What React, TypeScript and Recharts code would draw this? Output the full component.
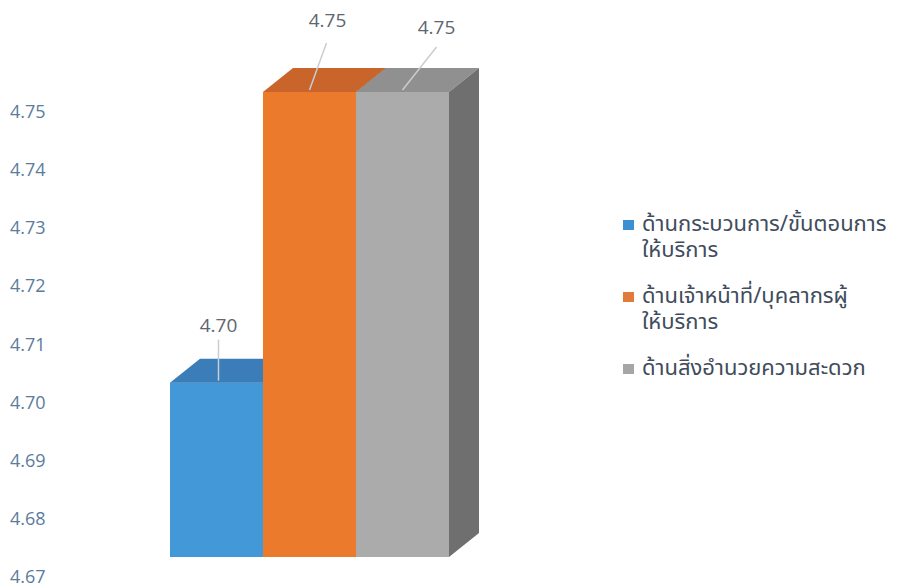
import React from 'react';
import { BarChart, Bar, XAxis, YAxis, LabelList } from 'recharts';

const categories = ['ผลการประเมิน'];
const seriesKeys = ['s1', 's2', 's3'];
const seriesNames = [
  'ด้านกระบวนการ/ขั้นตอนการให้บริการ',
  'ด้านเจ้าหน้าที่/บุคลากรผู้ให้บริการ',
  'ด้านสิ่งอำนวยความสะดวก',
];
const legendLines = [
  ['ด้านกระบวนการ/ขั้นตอนการ', 'ให้บริการ'],
  ['ด้านเจ้าหน้าที่/บุคลากรผู้', 'ให้บริการ'],
  ['ด้านสิ่งอำนวยความสะดวก'],
];
const seriesValues = [4.7, 4.75, 4.75];
const yTicks = [4.67, 4.68, 4.69, 4.7, 4.71, 4.72, 4.73, 4.74, 4.75];

const data = categories.map((c) => {
  const row: any = { name: c };
  seriesKeys.forEach((k, i) => (row[k] = seriesValues[i]));
  return row;
});

const styles = [
  { front: '#4399D8', top: '#3A7DB8', side: '#2E6A9E', legend: '#3C8FD0', lab: { dx: 2, dy: -58, lx1: 2, ly1: -43, lx2: 2, ly2: -2 } },
  { front: '#EC7A2C', top: '#C9642B', side: '#A85222', legend: '#E07B39', lab: { dx: 18, dy: -72, lx1: 17, ly1: -49, lx2: 0, ly2: -2 } },
  { front: '#ABABAB', top: '#909090', side: '#6F6F6F', legend: '#A6A6A6', lab: { dx: 34, dy: -65, lx1: 34, ly1: -45, lx2: 0, ly2: -2 } },
];

const DX = 30;
const DY = 24;

const Box3D = (st: any) => (props: any) => {
  const { x, y, width, height } = props;
  const x2 = x + width;
  const yb = y + height;
  return (
    <g>
      <rect x={x} y={y} width={width} height={height} fill={st.front} />
      <polygon points={`${x},${y} ${x + DX},${y - DY} ${x2 + DX},${y - DY} ${x2},${y}`} fill={st.top} />
      <polygon points={`${x2},${y} ${x2 + DX},${y - DY} ${x2 + DX},${yb - DY} ${x2},${yb}`} fill={st.side} />
    </g>
  );
};

const LeaderLabel = (st: any) => (props: any) => {
  const { x, y, width, value } = props;
  const cx = x + width / 2;
  const l = st.lab;
  return (
    <g>
      <line x1={cx + l.lx1} y1={y + l.ly1} x2={cx + l.lx2} y2={y + l.ly2} stroke="#C9CDD2" strokeWidth={1.5} />
      <text x={cx + l.dx} y={y + l.dy} textAnchor="middle" dominantBaseline="central" fill="#5E6670" fontSize={19} fontFamily="'Open Sans', sans-serif">
        {Number(value).toFixed(2)}
      </text>
    </g>
  );
};

const YTick = (props: any) => {
  const { y, payload } = props;
  return (
    <text x={10} y={y + 19} textAnchor="start" dominantBaseline="central" fill="#5C7C9C" fontSize={18} fontFamily="'Open Sans', sans-serif">
      {Number(payload.value).toFixed(2)}
    </text>
  );
};

const LegendBlock = () => (
  <div
    style={{
      position: 'absolute',
      left: 623,
      top: 212,
      width: 296,
      fontFamily: "'Noto Sans Thai', 'Noto Sans', 'DejaVu Sans', sans-serif",
      fontSize: 22,
      color: '#3F4C5C',
      lineHeight: '26px',
    }}
  >
    {legendLines.map((lines, i) => (
      <div key={seriesNames[i]} style={{ position: 'relative', paddingLeft: 19, marginBottom: 20 }}>
        <span style={{ position: 'absolute', left: 0, top: 8, width: 11, height: 10, background: styles[i].legend }} />
        {lines.map((ln, j) => (
          <div key={j} style={{ whiteSpace: 'nowrap' }}>{ln}</div>
        ))}
      </div>
    ))}
  </div>
);

export default function App() {
  return (
    <div style={{ position: 'absolute', left: 0, top: 0, width: 919, height: 588, background: '#fff' }}>
      <BarChart
        width={919}
        height={588}
        data={data}
        margin={{ top: 92, right: 430, bottom: 31, left: 0 }}
        barSize={93}
        barGap={0}
      >
        <XAxis dataKey="name" hide />
        <YAxis
          width={130}
          domain={[4.67, 4.75]}
          ticks={yTicks}
          axisLine={false}
          tickLine={false}
          tick={<YTick />}
        />
        {seriesKeys.map((k, i) => (
          <Bar key={k} dataKey={k} name={seriesNames[i]} fill={styles[i].front} shape={Box3D(styles[i])} isAnimationActive={false}>
            <LabelList dataKey={k} content={LeaderLabel(styles[i])} />
          </Bar>
        ))}
      </BarChart>
      <LegendBlock />
    </div>
  );
}
